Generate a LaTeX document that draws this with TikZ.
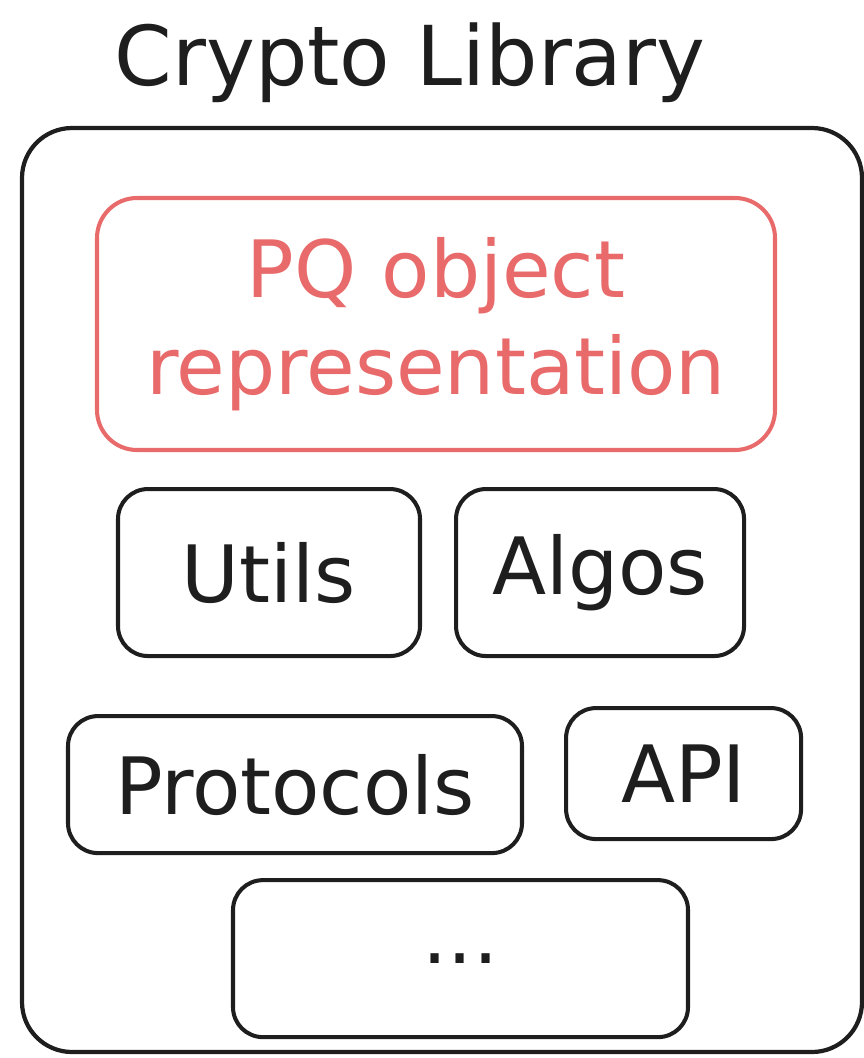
\documentclass[tikz,border=0pt]{standalone}
\usepackage{fontspec}
\setmainfont{DejaVu Sans}
\usepackage{xcolor}
\usepackage{tikz}
\usetikzlibrary{positioning}

\definecolor{inkblack}{HTML}{1E1E1E}
\definecolor{pqred}{HTML}{E86A6A}

\begin{document}
\begin{tikzpicture}[
    title/.style={font=\fontsize{47}{52}\selectfont, text=inkblack},
    container/.style={rectangle, draw=inkblack, line width=2.4pt, rounded corners=1cm},
    module/.style={rectangle, draw=inkblack, line width=2.3pt, rounded corners=0.6cm, align=center, font=\fontsize{45}{50}\selectfont, text=inkblack, inner sep=0pt},
    pqbox/.style={module, draw=pqred, text=pqred, rounded corners=0.8cm, font=\fontsize{45}{55}\selectfont}]

    \useasboundingbox (0,0) rectangle (17.26,-21.16);

    % Library frame and title
    \node[title] (title) at (8.2,-1.25) {Crypto Library};
    \draw[container] (0.44,-2.56) rectangle (17.24,-21.04);

    % Highlighted PQ part
    \node[pqbox, minimum width=13.56cm, minimum height=5.04cm] (pq) at (8.72,-6.48) {PQ object\\representation};

    % Modules
    \node[module, minimum width=6.04cm, minimum height=3.34cm, below right=0.7cm and 0.42cm of pq.south west, anchor=north west] (utils) {Utils};
    \node[module, minimum width=5.76cm, minimum height=3.34cm, right=0.64cm of utils] (algos) {Algos};
    \node[module, minimum width=9.08cm, minimum height=2.74cm, below right=1.12cm and -1.0cm of utils.south west, anchor=north west] (protocols) {Protocols};
    \node[module, minimum width=4.7cm, minimum height=2.62cm, below right=0.96cm and -3.64cm of algos.south east, anchor=north west] (api) {API};
    \node[module, minimum width=9.1cm, minimum height=3.14cm, below right=0.46cm and 3.3cm of protocols.south west, anchor=north west] (more) {...};

\end{tikzpicture}
\end{document}
